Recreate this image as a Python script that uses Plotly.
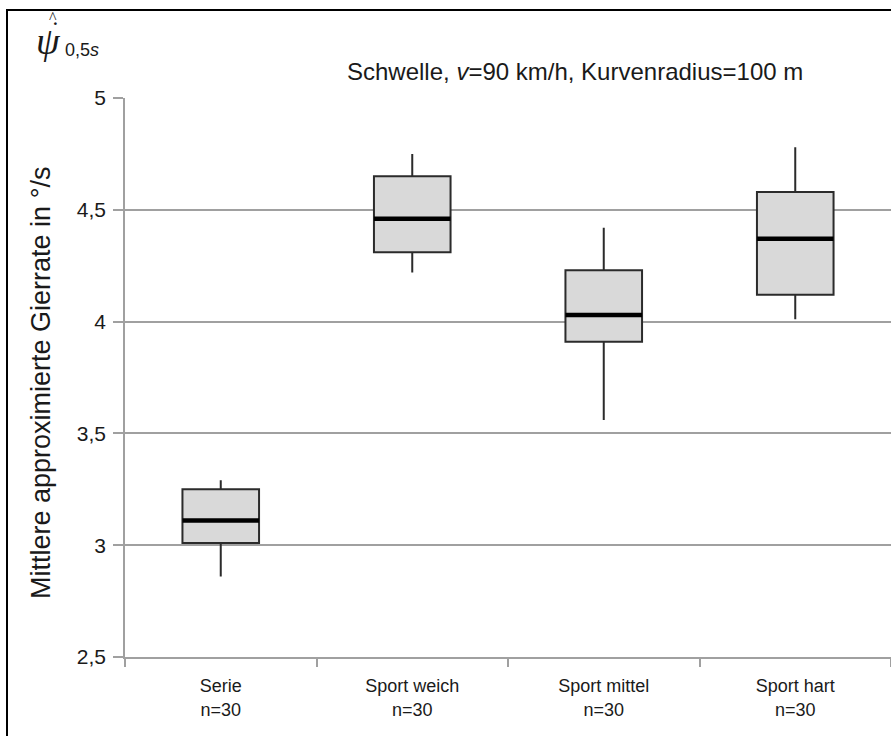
import plotly.graph_objects as go

# Fahrzeugvarianten und Kennwerte der Boxplots (Gierrate in °/s)
categories = ["Serie", "Sport weich", "Sport mittel", "Sport hart"]
n_values = [30, 30, 30, 30]
lower_whisker = [2.86, 4.22, 3.56, 4.01]
q1_values = [3.01, 4.31, 3.91, 4.12]
median_values = [3.11, 4.46, 4.03, 4.37]
q3_values = [3.25, 4.65, 4.23, 4.58]
upper_whisker = [3.29, 4.75, 4.42, 4.78]

y_ticks = [2.5, 3, 3.5, 4, 4.5, 5]
y_tick_text = ["2,5", "3", "3,5", "4", "4,5", "5"]

W, H = 891, 736
ML, MR, MT, MB = 125, 0, 98, 79
BOX_W = 0.4
GRID = "#a0a0a0"
TXT = "#1a1a1a"
FONT = "Liberation Sans, Arial, sans-serif"
SERIF = "Liberation Serif, DejaVu Serif, serif"

positions = list(range(len(categories)))
tick_text = [f"{c}<br>n={n}" for c, n in zip(categories, n_values)]

fig = go.Figure()

fig.add_trace(go.Box(
    x=positions,
    q1=q1_values,
    median=median_values,
    q3=q3_values,
    lowerfence=lower_whisker,
    upperfence=upper_whisker,
    width=BOX_W,
    whiskerwidth=0,
    fillcolor="#d9d9d9",
    line=dict(color="#2b2b2b", width=2),
    boxpoints=False,
    showlegend=False,
    hoverinfo="skip",
))

# kräftige Medianlinien
for p, m in zip(positions, median_values):
    fig.add_trace(go.Scatter(
        x=[p - BOX_W / 2, p + BOX_W / 2],
        y=[m, m],
        mode="lines",
        line=dict(color="black", width=4.5),
        showlegend=False,
        hoverinfo="skip",
    ))

fig.update_layout(
    width=W, height=H,
    margin=dict(l=ML, r=MR, t=MT, b=MB),
    paper_bgcolor="white",
    plot_bgcolor="white",
    font=dict(family=FONT, color=TXT),
    xaxis=dict(
        range=[-0.5, len(categories) - 0.5],
        tickmode="array",
        tickvals=positions,
        ticktext=tick_text,
        ticks="",
        ticklabelstandoff=12,
        showgrid=False,
        zeroline=False,
        showline=True,
        linecolor=GRID,
        linewidth=1.5,
        tickfont=dict(size=18, family=FONT, color=TXT),
        minor=dict(
            tickmode="linear",
            tick0=-0.5,
            dtick=1,
            ticks="outside",
            ticklen=8,
            tickwidth=1.5,
            tickcolor=GRID,
            showgrid=False,
        ),
    ),
    yaxis=dict(
        range=[2.5, 5],
        tickmode="array",
        tickvals=y_ticks,
        ticktext=y_tick_text,
        ticks="outside",
        ticklen=10,
        tickwidth=1.5,
        tickcolor=GRID,
        ticklabelstandoff=3,
        showgrid=True,
        gridcolor=GRID,
        gridwidth=1.5,
        zeroline=False,
        showline=True,
        linecolor=GRID,
        linewidth=1.5,
        tickfont=dict(size=21, family=FONT, color=TXT),
    ),
)

plot_w = W - ML - MR
plot_h = H - MT - MB


def px_x(px):
    return (px - ML) / plot_w


def px_y(py):
    return (H - MB - py) / plot_h


annotations = [
    dict(text="Schwelle, <i>v</i>=90 km/h, Kurvenradius=100 m",
         x=px_x(575), y=px_y(71), xanchor="center", yanchor="middle",
         font=dict(size=24, family=FONT, color=TXT)),
    dict(text="Mittlere approximierte Gierrate in °/s",
         x=px_x(41), y=px_y(383), xanchor="center", yanchor="middle",
         textangle=-90,
         font=dict(size=27, family=FONT, color=TXT)),
    dict(text="<i>ψ</i>", x=px_x(48), y=px_y(41), xanchor="center", yanchor="middle",
         font=dict(size=38, family=SERIF, color=TXT)),
    dict(text="˙", x=px_x(55), y=px_y(30), xanchor="center", yanchor="middle",
         font=dict(size=26, family=SERIF, color=TXT)),
    dict(text="^", x=px_x(53), y=px_y(18), xanchor="center", yanchor="middle",
         font=dict(size=16, family=SERIF, color=TXT)),
    dict(text="0,5<i>s</i>", x=px_x(63), y=px_y(50), xanchor="left", yanchor="middle",
         font=dict(size=18, family=FONT, color=TXT)),
]
for a in annotations:
    a.update(xref="paper", yref="paper", showarrow=False)
fig.update_layout(annotations=annotations)

# schwarzer Rahmen um die Grafik
fig.add_shape(type="rect", xref="paper", yref="paper",
              x0=px_x(7), x1=px_x(W + 20), y0=px_y(H + 20), y1=px_y(10),
              line=dict(color="black", width=2), fillcolor="rgba(0,0,0,0)",
              layer="above")

fig.write_html("out.html")
